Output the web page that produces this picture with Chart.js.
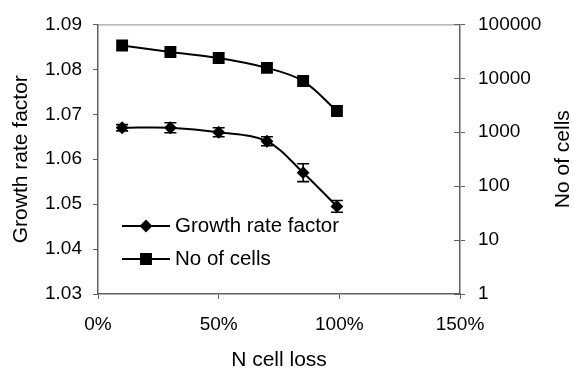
<!DOCTYPE html>
<html>
<head>
<meta charset="utf-8">
<script src="https://cdn.jsdelivr.net/npm/chart.js@4"></script>
<style>
  body { margin: 0; background: #fff; }
  #wrap { width: 573px; height: 372px; }
</style>
</head>
<body>
<div id="wrap"><canvas id="myChart"></canvas></div>
<script>
// values
const cellLoss = [10, 30, 50, 70, 85, 99];              // N cell loss, %
const growthRate = [1.067, 1.067, 1.066, 1.064, 1.057, 1.0495];
const growthErr = [0.0007, 0.0011, 0.001, 0.001, 0.002, 0.0013];
const noOfCells = [40700, 30700, 23800, 15600, 8900, 2480];
const xTicks = [0, 50, 100, 150];
const leftTicks = [1.03, 1.04, 1.05, 1.06, 1.07, 1.08, 1.09];
const rightTicks = [1, 10, 100, 1000, 10000, 100000];
const rightTitle = 'No of cells';

const FONT = 'Arial, "Liberation Sans", sans-serif';
const AXIS = '#606060';

Chart.defaults.font.family = FONT;
Chart.defaults.font.size = 19;
Chart.defaults.color = '#000';

// error bars on the growth rate series
const errorBars = {
  id: 'errorBars',
  afterDatasetsDraw(chart) {
    const meta = chart.getDatasetMeta(0);
    const ys = chart.scales.y;
    const c = chart.ctx;
    c.save();
    c.strokeStyle = '#000';
    c.lineWidth = 1.6;
    meta.data.forEach((pt, i) => {
      const top = ys.getPixelForValue(growthRate[i] + growthErr[i]);
      const bot = ys.getPixelForValue(growthRate[i] - growthErr[i]);
      c.beginPath();
      c.moveTo(pt.x, top); c.lineTo(pt.x, bot);
      c.moveTo(pt.x - 6, top); c.lineTo(pt.x + 6, top);
      c.moveTo(pt.x - 6, bot); c.lineTo(pt.x + 6, bot);
      c.stroke();
    });
    c.restore();
  }
};

// plot frame, right axis title (reads upward) and legend inside the plot
const frameLegend = {
  id: 'frameLegend',
  afterDraw(chart) {
    const a = chart.chartArea;
    const c = chart.ctx;
    c.save();
    c.strokeStyle = '#8c8c8c';
    c.lineWidth = 1;
    c.beginPath();
    c.moveTo(a.left, a.top + 0.5); c.lineTo(a.right, a.top + 0.5);
    c.stroke();

    // right axis ticks cross the axis line
    const y2 = chart.scales.y2;
    c.strokeStyle = AXIS;
    c.lineWidth = 1;
    rightTicks.forEach(v => {
      const y = Math.round(y2.getPixelForValue(v)) + 0.5;
      c.beginPath(); c.moveTo(a.right - 6, y); c.lineTo(a.right, y); c.stroke();
    });

    c.fillStyle = '#000';
    c.font = '21px ' + FONT;
    c.textBaseline = 'middle';
    c.textAlign = 'center';
    c.translate(563.5, (a.top + a.bottom) / 2);
    c.rotate(-Math.PI / 2);
    c.fillText(rightTitle, 0, 0);
    c.setTransform(1, 0, 0, 1, 0, 0);

    const rows = [a.bottom - 68, a.bottom - 35];
    chart.data.datasets.forEach((ds, i) => {
      const y = rows[i];
      const x0 = a.left + 24;
      c.strokeStyle = '#000';
      c.lineWidth = 2;
      c.beginPath(); c.moveTo(x0, y); c.lineTo(x0 + 48, y); c.stroke();
      Chart.helpers.drawPoint(c, { pointStyle: ds.pointStyle, radius: ds.pointRadius, borderWidth: 1 }, x0 + 24, y);
      c.fillStyle = '#000';
      c.font = '20.5px ' + FONT;
      c.textBaseline = 'middle';
      c.textAlign = 'left';
      c.fillText(ds.label, x0 + 53, y);
    });
    c.restore();
  }
};

const ctx = document.getElementById('myChart').getContext('2d');
const myChart = new Chart(ctx, {
  type: 'line',
  data: {
    datasets: [{
      label: 'Growth rate factor',
      data: cellLoss.map((x, i) => ({ x: x, y: growthRate[i] })),
      yAxisID: 'y',
      borderColor: '#000',
      backgroundColor: '#000',
      borderWidth: 2,
      pointStyle: 'rectRot',
      pointRadius: 5,
      tension: 0.35
    }, {
      label: 'No of cells',
      data: cellLoss.map((x, i) => ({ x: x, y: noOfCells[i] })),
      yAxisID: 'y2',
      borderColor: '#000',
      backgroundColor: '#000',
      borderWidth: 2,
      pointStyle: 'rect',
      pointRadius: 7,
      tension: 0.35
    }]
  },
  options: {
    responsive: true,
    maintainAspectRatio: false,
    animation: false,
    events: [],
    layout: { padding: { top: 21, left: 0, right: 0, bottom: 0 } },
    plugins: { legend: { display: false }, tooltip: { enabled: false } },
    scales: {
      x: {
        type: 'linear',
        min: 0, max: 150,
        afterBuildTicks: s => { s.ticks = xTicks.map(v => ({ value: v })); },
        afterFit: s => { s.height = 78; },
        ticks: { callback: v => v + '%', padding: 14, maxRotation: 0 },
        grid: { drawOnChartArea: false, tickLength: 5, color: AXIS },
        border: { color: AXIS, width: 1.5 },
        title: { display: true, text: 'N cell loss', font: { size: 21, lineHeight: 1 }, padding: { top: 0, bottom: 1 } }
      },
      y: {
        position: 'left',
        min: 1.03, max: 1.09,
        afterBuildTicks: s => { s.ticks = leftTicks.map(v => ({ value: v })); },
        afterFit: s => { s.width = 98; },
        ticks: { callback: v => v.toFixed(2), padding: 11 },
        grid: { drawOnChartArea: false, tickLength: 5, color: AXIS },
        border: { color: AXIS, width: 1.5 },
        title: { display: true, text: 'Growth rate factor', font: { size: 21, lineHeight: 1 }, padding: { top: 11, bottom: 0 } }
      },
      y2: {
        type: 'logarithmic',
        position: 'right',
        min: 1, max: 100000,
        afterBuildTicks: s => { s.ticks = rightTicks.map(v => ({ value: v })); },
        afterFit: s => { s.width = 113; },
        ticks: { callback: v => String(v), padding: 13 },
        grid: { drawOnChartArea: false, tickLength: 5, color: AXIS },
        border: { color: AXIS, width: 1.5 },
        title: { display: false }
      }
    }
  },
  plugins: [errorBars, frameLegend]
});
</script>
</body>
</html>
